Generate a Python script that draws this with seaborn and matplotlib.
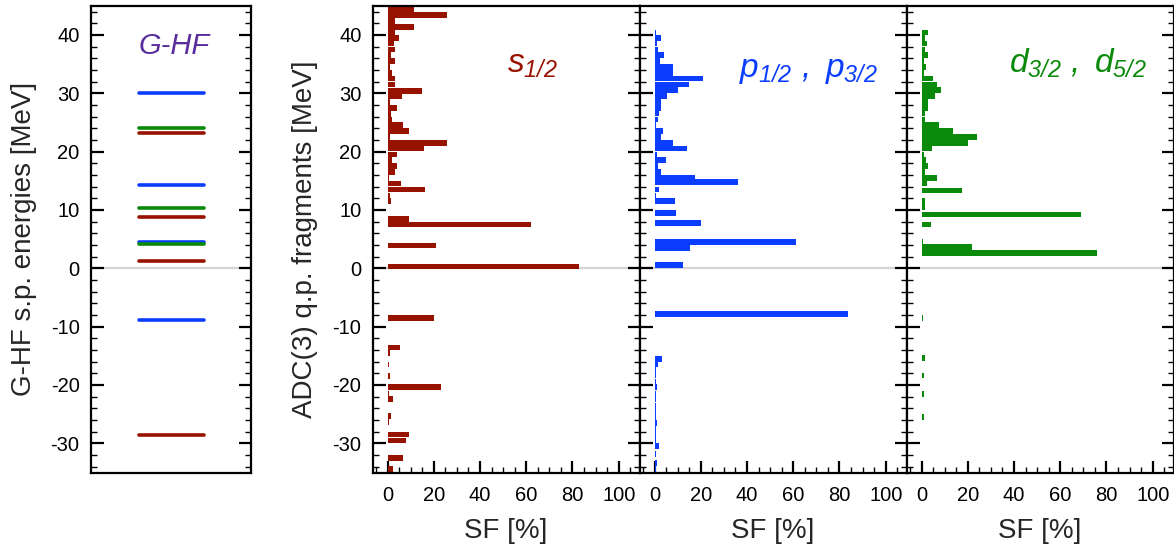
import numpy as np
import pandas as pd
import matplotlib
matplotlib.use("Agg")
import matplotlib.pyplot as plt
from matplotlib.ticker import MultipleLocator
import seaborn as sns

# ---------------------------------------------------------------------------
# G-HF single-particle energies [MeV]
ghf_orbit = ["s", "p", "d", "s", "p", "d", "s", "p", "d", "s", "p"]
ghf_energy = [23.2, 30.1, 24.1, 8.8, 14.3, 10.3, 1.2, 4.55, 4.15, -28.5, -8.9]

# ADC(3) quasiparticle fragments: energy [MeV] and spectroscopic factor [%]
s_energy = [44.3, 43.4, 42.4, 41.4, 40.5, 39.5, 38.5, 37.5, 36.5, 35.5, 34.5, 33.5,
            32.5, 31.5, 30.4, 29.5, 28.5, 27.5, 26.4, 25.5, 24.5, 23.5, 22.5, 21.5,
            20.5, 19.5, 18.5, 17.5, 16.5, 15.5, 14.5, 13.5, 12.5, 11.5, 10.5, 8.5,
            7.5, 4.6, 3.9, 0.3,
            -8.5, -13.6, -14.5, -15.5, -16.5, -17.5, -18.5, -20.4, -21.5, -22.4,
            -23.4, -24.4, -25.3, -26.4, -27.4, -28.5, -29.5, -30.5, -31.5, -32.5,
            -33.5, -34.4]
s_sf = [11.3, 25.6, 3.1, 11.3, 3.1, 4.9, 2.6, 3.1, 1.4, 3.1, 0.9, 1.9,
        3.1, 3.1, 15.1, 6.1, 1.1, 3.9, 1.3, 1.9, 6.6, 9.1, 1.0, 25.7,
        15.6, 4.3, 2.0, 3.9, 3.1, 0.6, 5.9, 16.0, 0.9, 1.6, 0.4, 9.1,
        62.0, 0.4, 20.9, 83.0,
        20.3, 5.3, 0.9, 0.3, 0.7, 0.3, 0.9, 23.0, 0.6, 2.2,
        0.4, 0.3, 1.4, 0.5, 0.3, 9.1, 7.9, 0.4, 0.3, 6.5,
        0.3, 2.3]

p_energy = [40.4, 39.5, 38.5, 37.5, 36.5, 35.5, 34.5, 33.5, 32.5, 31.5, 30.5, 29.5,
            28.5, 27.5, 26.5, 25.5, 24.5, 23.5, 22.5, 21.5, 20.5, 19.5, 18.5, 17.5,
            16.5, 15.5, 14.8, 13.5, 12.5, 11.5, 10.4, 9.5, 7.8, 4.5, 3.5, 0.6,
            -7.8, -15.5, -16.4, -17.4, -18.3, -19.4, -20.4, -21.6, -22.5, -23.5,
            -24.5, -25.5, -26.5, -27.4, -28.4, -29.4, -30.5, -31.8, -33.4, -34.4]
p_sf = [0.7, 2.7, 1.0, 1.6, 4.3, 2.3, 7.8, 8.2, 21.1, 15.0, 10.2, 5.5,
        2.6, 2.6, 2.0, 1.6, 0.7, 3.5, 2.7, 7.9, 13.9, 1.0, 4.8, 1.7,
        2.7, 17.3, 35.9, 1.9, 0.7, 8.7, 0.3, 9.4, 20.2, 61.3, 15.3, 12.4,
        83.5, 3.2, 1.6, 0.5, 0.5, 0.5, 1.0, 0.7, 0.5, 0.5,
        0.5, 0.5, 1.1, 0.5, 0.6, 0.5, 2.0, 0.5, 1.0, 0.7]

d_energy = [40.4, 39.5, 38.5, 37.5, 36.5, 35.5, 34.5, 33.5, 32.5, 31.5, 30.5, 29.5,
            28.5, 27.5, 26.5, 25.5, 24.5, 23.5, 22.5, 21.5, 20.5, 19.5, 18.5, 17.5,
            16.5, 15.5, 14.5, 13.3, 11.5, 10.5, 9.2, 7.5, 4.6, 3.7, 2.6,
            -8.5, -14.5, -15.4, -16.4, -17.4, -18.4, -19.4, -20.3, -21.5, -22.5,
            -23.5, -24.5, -25.5, -26.4, -27.4, -28.3, -29.2, -30.3, -31.4, -32.4]
d_sf = [3.0, 1.7, 2.4, 1.7, 2.6, 1.0, 2.0, 0.9, 5.0, 6.5, 8.6, 5.9,
        3.0, 2.9, 1.7, 1.4, 7.5, 13.7, 23.9, 19.9, 4.6, 1.0, 1.9, 2.6,
        1.7, 6.5, 2.2, 17.4, 1.3, 1.7, 69.2, 4.3, 0.5, 22.0, 76.0,
        0.7, 0.4, 1.3, 0.4, 0.4, 0.9, 0.4, 0.4, 0.9, 0.4,
        0.4, 0.4, 0.9, 0.4, 0.4, 0.4, 0.4, 0.4, 0.4, 0.4]

orbit_colors = {"s": "#971300", "p": "#0b3dff", "d": "#0a8a0a"}
ghf_color = "#5a2d9c"
panel_titles = [r"$s_{1/2}$", r"$p_{1/2}\ ,\ p_{3/2}$", r"$d_{3/2}\ ,\ d_{5/2}$"]
title_pos = [(51.8, 33.5), (36.4, 32.7), (37.8, 33.5)]
sf_ticks = [0, 20, 40, 60, 80, 100]

# ---------------------------------------------------------------------------
sns.set_style("ticks")
plt.rcParams["font.family"] = ["Liberation Sans", "DejaVu Sans"]
plt.rcParams["mathtext.fontset"] = "custom"
plt.rcParams["mathtext.rm"] = "Liberation Sans:italic"
plt.rcParams["mathtext.it"] = "Liberation Sans:italic"
plt.rcParams["axes.unicode_minus"] = False

W, H = 1174, 551
fig = plt.figure(figsize=(W / 100, H / 100), dpi=100)


def axes_px(x0, y0, x1, y1):
    return fig.add_axes([x0 / W, 1 - y1 / H, (x1 - x0) / W, (y1 - y0) / H])


def style_axes(ax):
    for sp in ax.spines.values():
        sp.set_linewidth(1.6)
        sp.set_color("black")
    ax.yaxis.set_major_locator(MultipleLocator(10))
    ax.yaxis.set_minor_locator(MultipleLocator(2))
    ax.tick_params(which="both", direction="in", left=True, right=True,
                   top=False, colors="black", labelsize=14.5)
    ax.tick_params(which="major", length=9, width=1.6, pad=8)
    ax.tick_params(which="minor", length=4.5, width=1.0)
    ax.tick_params(axis="x", which="major", pad=10)
    ax.set_ylim(-35, 45)


TOP, BOT = 5.7, 472.5

# --- left panel: G-HF levels -------------------------------------------------
ax0 = axes_px(90.7, TOP, 250.7, BOT)
style_axes(ax0)
ax0.set_xlim(0, 1)
ax0.axhline(0, color="#d4d4d4", lw=1.6, zorder=0)
lev = pd.DataFrame({
    "level": np.repeat(np.arange(len(ghf_energy)), 2),
    "x": np.tile([0.30, 0.71], len(ghf_energy)),
    "E": np.repeat(ghf_energy, 2),
    "orbit": np.repeat(ghf_orbit, 2),
})
sns.lineplot(data=lev, x="x", y="E", hue="orbit", hue_order=["s", "p", "d"],
             units="level", estimator=None, sort=False, palette=orbit_colors,
             legend=False, lw=2.6, solid_capstyle="round", ax=ax0)
ax0.tick_params(axis="x", which="both", bottom=False, labelbottom=False)
ax0.set_xlabel("")
ax0.set_ylabel("G-HF s.p. energies [MeV]", fontsize=20, labelpad=10)
ax0.text(0.52, 36.8, "G-HF", transform=ax0.get_yaxis_transform(),
         color=ghf_color, style="italic", fontsize=21, ha="center", va="baseline")

# --- right panels: ADC(3) fragments ------------------------------------------
series = [(s_energy, s_sf, "s"), (p_energy, p_sf, "p"), (d_energy, d_sf, "d")]
lefts = [372.5, 639.5, 906.5]
for i, (energy, sf, orb) in enumerate(series):
    ax = axes_px(lefts[i], TOP, lefts[i] + 267, BOT)
    style_axes(ax)
    ax.axhline(0, color="#d4d4d4", lw=1.6, zorder=0)
    df = pd.DataFrame({"E": energy, "SF": sf})
    # bar thickness of ~1 MeV, independent of the spacing between fragments
    step = np.min(np.diff(np.unique(df["E"])))
    sns.barplot(data=df, x="SF", y="E", orient="y", native_scale=True,
                width=0.97 / step, color=orbit_colors[orb], saturation=1,
                errorbar=None, linewidth=0, ax=ax)
    ax.set_ylim(-35, 45)
    ax.set_xlim(-6.5, 109)
    ax.set_xticks(sf_ticks)
    ax.xaxis.set_minor_locator(MultipleLocator(5))
    ax.set_xlabel("SF [%]", fontsize=20, labelpad=9)
    if i == 0:
        ax.set_ylabel("ADC(3) q.p. fragments [MeV]", fontsize=20, labelpad=10)
    else:
        ax.set_ylabel("")
        ax.tick_params(axis="y", which="both", labelleft=False)
    tx, ty = title_pos[i]
    ax.text(tx, ty, panel_titles[i], color=orbit_colors[orb], fontsize=24,
            va="baseline", ha="left")

fig.savefig("out.png", dpi=100)
